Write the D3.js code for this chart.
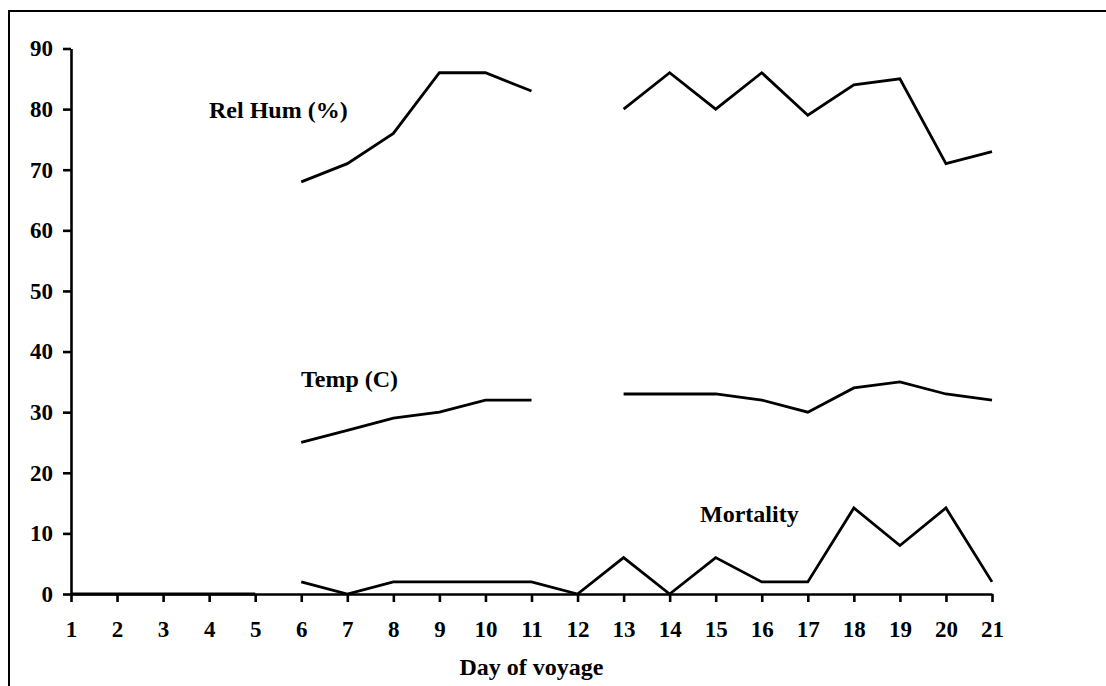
<!DOCTYPE html>
<html>
<head>
<meta charset="utf-8">
<script src="https://cdn.jsdelivr.net/npm/d3@7"></script>
<style>
  body { margin: 0; background: #fff; }
  text { font-family: "Liberation Serif", "Times New Roman", serif; font-weight: bold; fill: #000; }
</style>
</head>
<body>
<svg id="chart" width="1106" height="686"></svg>
<script>
// days of the voyage (x categories)
const days = d3.range(1, 22);
const yTicks = [0, 10, 20, 30, 40, 50, 60, 70, 80, 90];

// relative humidity (%) - day 12 not recorded
const relHumDays = [6, 7, 8, 9, 10, 11, 12, 13, 14, 15, 16, 17, 18, 19, 20, 21];
const relHum     = [68, 71, 76, 86, 86, 83, null, 80, 86, 80, 86, 79, 84, 85, 71, 73];

// temperature (C) - day 12 not recorded
const tempDays = [6, 7, 8, 9, 10, 11, 12, 13, 14, 15, 16, 17, 18, 19, 20, 21];
const temp     = [25, 27, 29, 30, 32, 32, null, 33, 33, 33, 32, 30, 34, 35, 33, 32];

// mortality, before loading (days 1-5) and at sea (days 6-21)
const mortPreDays = [1, 2, 3, 4, 5];
const mortPre     = [0, 0, 0, 0, 0];
const mortDays = [6, 7, 8, 9, 10, 11, 12, 13, 14, 15, 16, 17, 18, 19, 20, 21];
const mort     = [2, 0, 2, 2, 2, 2, 0, 6, 0, 6, 2, 2, 14.2, 8, 14.2, 2];

function drawChart() {
    const svg = d3.select('#chart');

    // outer frame, runs off the bottom/right of the picture
    svg.append('rect')
        .attr('x', 9).attr('y', 11)
        .attr('width', 1200).attr('height', 800)
        .attr('fill', 'none')
        .attr('stroke', '#000')
        .attr('stroke-width', 2);

    const xScale = d3.scaleLinear().domain([1, 21]).range([71, 992]);
    const yScale = d3.scaleLinear().domain([0, 90]).range([594, 48.5]);

    const line = d3.line()
        .defined(d => d.v !== null)
        .x(d => xScale(d.day))
        .y(d => yScale(d.v));

    const series = [
        { days: mortPreDays, vals: mortPre },
        { days: mortDays, vals: mort },
        { days: tempDays, vals: temp },
        { days: relHumDays, vals: relHum }
    ];

    series.forEach(s => {
        const pts = s.days.map((d, i) => ({ day: d, v: s.vals[i] }));
        svg.append('path')
            .datum(pts)
            .attr('fill', 'none')
            .attr('stroke', '#000')
            .attr('stroke-width', 2.8)
            .attr('stroke-linejoin', 'miter')
            .attr('d', line);
    });

    const xAxis = svg.append('g')
        .attr('transform', 'translate(0, 594)')
        .call(d3.axisBottom(xScale).tickValues(days).tickFormat(d3.format('d'))
            .tickSize(8).tickSizeOuter(0).tickPadding(19));
    xAxis.selectAll('text').style('font-size', '23px');

    const yAxis = svg.append('g')
        .attr('transform', 'translate(71, 0)')
        .call(d3.axisLeft(yScale).tickValues(yTicks)
            .tickSize(8).tickSizeOuter(0).tickPadding(10));
    yAxis.selectAll('text').style('font-size', '23px');

    svg.selectAll('.domain, .tick line')
        .attr('stroke', '#000')
        .attr('stroke-width', 2.6);

    svg.append('text')
        .attr('x', (xScale(1) + xScale(21)) / 2)
        .attr('y', 675)
        .attr('text-anchor', 'middle')
        .style('font-size', '24px')
        .text('Day of voyage');

    // series labels
    const labels = [
        { text: 'Rel Hum (%)', x: 209, y: 118 },
        { text: 'Temp (C)', x: 301, y: 387 },
        { text: 'Mortality', x: 700, y: 522 }
    ];
    labels.forEach(l => {
        svg.append('text')
            .attr('x', l.x).attr('y', l.y)
            .style('font-size', '24px')
            .text(l.text);
    });
}

drawChart();
</script>
</body>
</html>
